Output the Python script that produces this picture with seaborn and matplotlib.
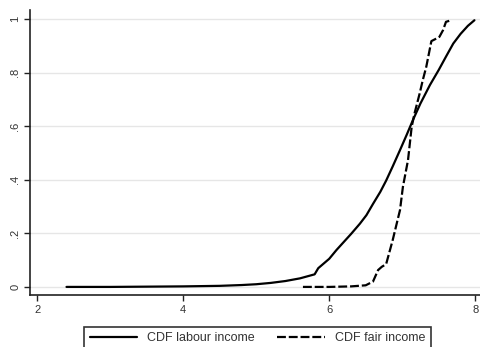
import matplotlib
matplotlib.use("Agg")
import matplotlib.pyplot as plt
import seaborn as sns
import pandas as pd

# Empirical CDFs of log income
labour_x = [2.40, 3.0, 3.5, 4.0, 4.5, 4.8, 5.0, 5.2, 5.4, 5.6, 5.8, 5.85, 6.0, 6.1,
            6.2, 6.3, 6.42, 6.51, 6.60, 6.70, 6.78, 6.87, 6.97, 7.06, 7.15, 7.25,
            7.38, 7.5, 7.6, 7.7, 7.8, 7.9, 7.99]
labour_cdf = [0.0, 0.0, 0.001, 0.002, 0.004, 0.007, 0.010, 0.015, 0.022, 0.032, 0.047,
              0.07, 0.105, 0.138, 0.168, 0.198, 0.236, 0.268, 0.310, 0.355, 0.397,
              0.45, 0.511, 0.567, 0.625, 0.685, 0.754, 0.81, 0.86, 0.909, 0.945,
              0.975, 0.996]

fair_x = [5.64, 6.0, 6.3, 6.5, 6.6, 6.67, 6.72, 6.78, 6.87, 6.97, 7.01, 7.08, 7.13,
          7.17, 7.24, 7.28, 7.33, 7.40, 7.45, 7.51, 7.56, 7.60, 7.67]
fair_cdf = [0.0, 0.0, 0.002, 0.006, 0.02, 0.063, 0.075, 0.085, 0.175, 0.287, 0.374,
            0.474, 0.598, 0.649, 0.723, 0.77, 0.822, 0.918, 0.925, 0.934, 0.959,
            0.99, 0.996]

x_ticks = [2, 4, 6, 8]
y_ticks = [0, 0.2, 0.4, 0.6, 0.8, 1.0]
y_tick_labels = ["0", ".2", ".4", ".6", ".8", "1"]

sns.set_style("white")
plt.rcParams["font.family"] = ["Liberation Sans", "DejaVu Sans"]

fig = plt.figure(figsize=(4.81, 3.47), dpi=100)
ax = fig.add_axes([0.0624, 0.150, 0.9376, 0.821])

labour = pd.DataFrame({"x": labour_x, "cdf": labour_cdf})
fair = pd.DataFrame({"x": fair_x, "cdf": fair_cdf})

dash_pattern = (4, 1.3)

sns.lineplot(data=labour, x="x", y="cdf", ax=ax, color="black", lw=1.6,
             label="CDF labour income", estimator=None, sort=False)
sns.lineplot(data=fair, x="x", y="cdf", ax=ax, color="black", lw=1.6,
             label="CDF fair income", estimator=None, sort=False)
ax.lines[1].set_dashes(dash_pattern)

ax.set_xlim(1.9, 8.08)
ax.set_ylim(-0.03, 1.034)
ax.set_xticks(x_ticks)
ax.set_xticklabels([str(t) for t in x_ticks])
ax.set_yticks(y_ticks)
ax.set_yticklabels(y_tick_labels, rotation=90, va="center")
ax.set_xlabel("")
ax.set_ylabel("")

ax.yaxis.grid(True, color="#e6e6e6", lw=1.0)
ax.xaxis.grid(False)
for side in ["top", "right"]:
    ax.spines[side].set_visible(False)
for side in ["left", "bottom"]:
    ax.spines[side].set_color("#222222")
    ax.spines[side].set_linewidth(1.2)
ax.tick_params(axis="both", which="both", direction="out", length=4, width=1.0,
               color="#222222", labelsize=8, labelcolor="#333333", pad=3,
               left=True, bottom=True)

ax.get_legend().remove()
handles, labels = ax.get_legend_handles_labels()
handles[1].set_dashes(dash_pattern)
leg = fig.legend(handles, labels, ncol=2, loc="upper center",
                 bbox_to_anchor=(0.535, 0.077), fontsize=9, frameon=True,
                 fancybox=False, edgecolor="black", handlelength=3.8,
                 columnspacing=1.8, borderpad=0.45, handletextpad=0.8)
leg.get_frame().set_linewidth(1.2)
for t in leg.get_texts():
    t.set_color("#333333")

fig.savefig("out.png", dpi=100)
